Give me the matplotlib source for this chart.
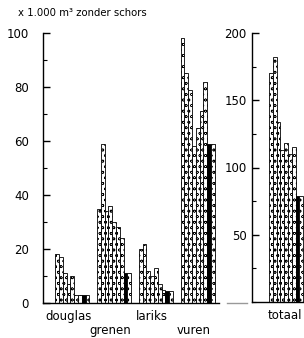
import numpy as np
import matplotlib
matplotlib.use("Agg")
import matplotlib.pyplot as plt
from matplotlib.ticker import MultipleLocator

plt.rcParams['font.family'] = ['DejaVu Sans']
plt.rcParams['hatch.linewidth'] = 0.4

# species, 7 hatched years, one black year, one more hatched year
species = ['douglas', 'grenen', 'lariks', 'vuren']
douglas = [18, 17, 11, 7, 10, 3, 3, 3, 3]
grenen = [35, 59, 34, 36, 30, 28, 24, 11, 11]
lariks = [20, 22, 12, 10, 13, 7, 5, 4.5, 4.5]
vuren = [98, 85, 79, 58, 65, 71, 82, 59, 59]
totaal = [170, 182, 134, 113, 118, 110, 115, 79, 79]
black_idx = 7

title = 'x 1.000 m\u00b3 zonder schors'
fs = 8.5

fig = plt.figure(figsize=(3.04, 3.38), dpi=100)
ax = fig.add_axes([43 / 304, 35 / 338, 176 / 304, 270 / 338])
ax2 = fig.add_axes([252 / 304, 36 / 338, 52 / 304, 269 / 338])


def draw_bars(a, x0, vals):
    for i, v in enumerate(vals):
        if i == black_idx:
            a.bar(x0 + i, v, width=1, align='edge', color='black',
                  edgecolor='black', linewidth=0.6)
        else:
            a.bar(x0 + i, v, width=1, align='edge', color='white',
                  edgecolor='black', linewidth=0.6, hatch='ooo')


for g, vals in enumerate([douglas, grenen, lariks, vuren]):
    draw_bars(ax, g * 11, vals)
draw_bars(ax2, 0, totaal)

ax.set_xlim(-3.2, 43.1)
ax.set_ylim(0, 100)
ax2.set_xlim(-4.5, 9.2)
ax2.set_ylim(0, 200)

for a in (ax, ax2):
    a.spines['top'].set_visible(False)
    a.spines['right'].set_visible(False)
    a.spines['left'].set_linewidth(1.0)
    a.spines['bottom'].set_linewidth(1.0)
    a.set_xticks([])
    a.patch.set_alpha(0)

ax.yaxis.set_major_locator(MultipleLocator(20))
ax.yaxis.set_minor_locator(MultipleLocator(10))
ax2.yaxis.set_major_locator(MultipleLocator(50))
ax2.yaxis.set_minor_locator(MultipleLocator(25))
ax.tick_params(axis='y', which='major', direction='in', length=5, width=1,
               labelsize=fs, pad=10)
ax.tick_params(axis='y', which='minor', direction='in', length=3, width=0.8)
ax2.tick_params(axis='y', which='major', direction='in', length=5, width=1,
                labelsize=fs, pad=4)
ax2.tick_params(axis='y', which='minor', direction='in', length=3, width=0.8)
ax2.set_yticks([50, 100, 150, 200])

# category labels, alternating rows
for g, name in enumerate(species):
    y = -0.063 if g % 2 == 0 else -0.113
    ax.text(g * 11 + 4.5 - 1.1, y, name, transform=ax.get_xaxis_transform(),
            ha='center', va='baseline', fontsize=fs)
ax2.text(4.2, -0.063, 'totaal', transform=ax2.get_xaxis_transform(),
         ha='center', va='baseline', fontsize=fs)

# faint stray baseline stub between the two panels
fig.add_artist(plt.Line2D([227 / 304, 247 / 304], [35 / 338, 35 / 338],
                          color='0.6', linewidth=1))

fig.text(18 / 304, 1 - 16 / 338, title, ha='left', va='baseline', fontsize=7.3)

fig.savefig('out.png', dpi=100)
